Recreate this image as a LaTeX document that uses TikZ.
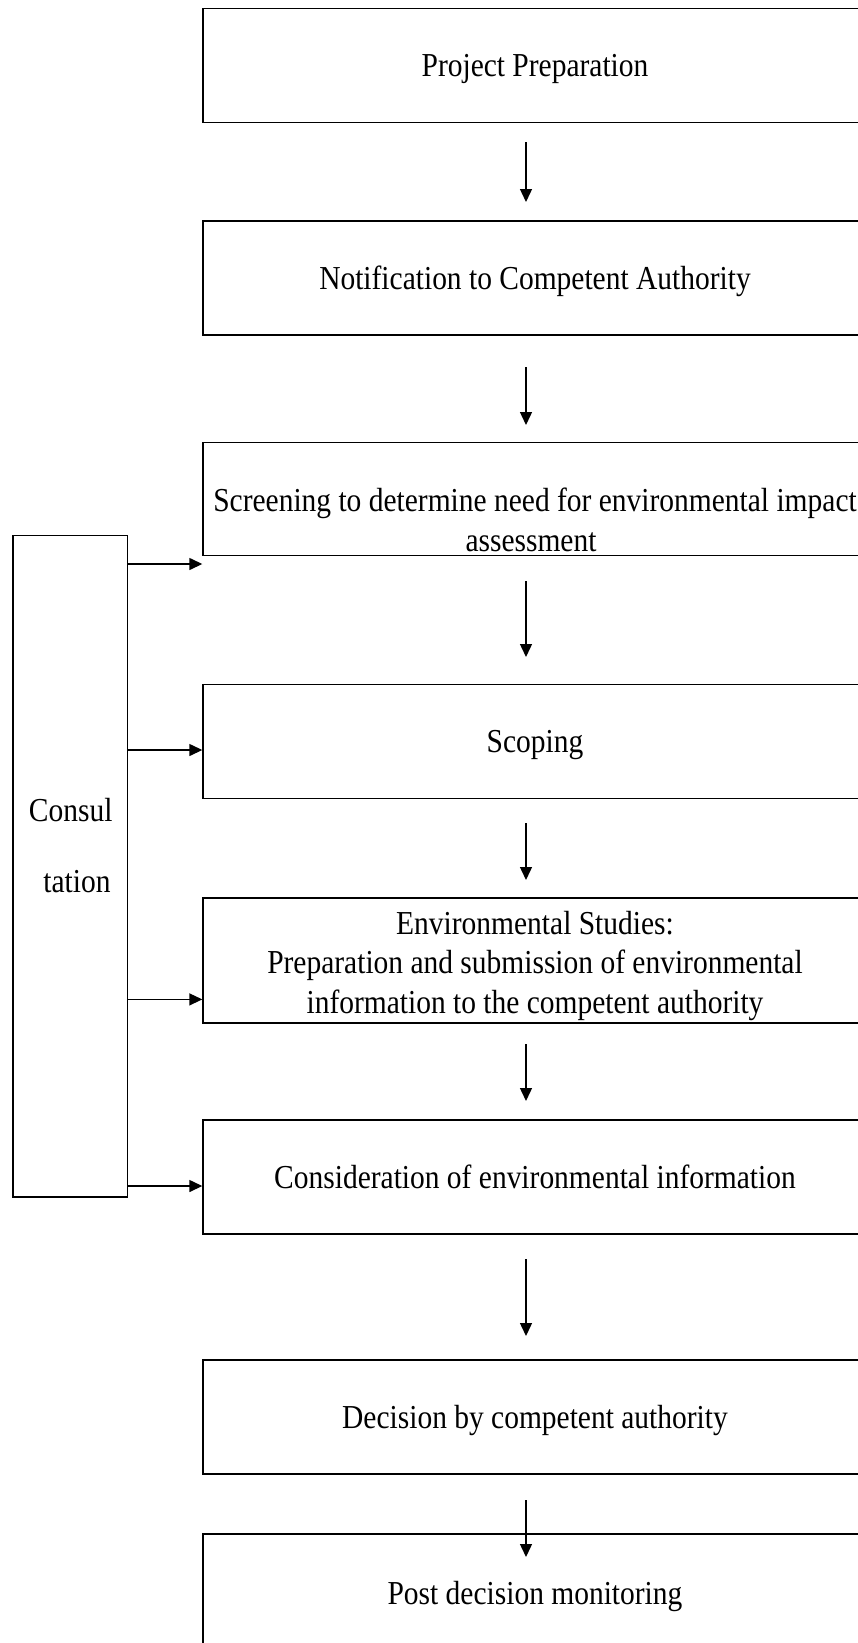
\documentclass[tikz,border=0pt]{standalone}
\usepackage{fontspec}
\setmainfont{Liberation Serif}[FakeStretch=0.88]
\usetikzlibrary{arrows.meta}
\begin{document}
\begin{tikzpicture}[x=1pt,y=-1pt,
  box/.style={draw, line width=1.4pt, minimum width=664pt, minimum height=114pt, inner sep=0pt},
  lbl/.style={anchor=base, inner sep=0pt, font=\fontsize{33.5}{40}\selectfont},
  arr/.style={line width=1.4pt, -{Triangle[length=13pt,width=12pt]}}]
\useasboundingbox (0,0) rectangle (858,1643);
\clip (0,0) rectangle (858,1643);
\fill[white] (0,0) rectangle (858,1643);
% boxes
\node[box] (b1) at (535,65.5) {};
\node[box] (b2) at (535,277.85) {};
\node[box, minimum height=113pt] (b3) at (535,499) {};
\node[box] (b4) at (535,741.3) {};
\node[box, minimum height=125pt] (b5) at (535,960.5) {};
\node[box] (b6) at (535,1177) {};
\node[box] (b7) at (535,1417) {};
\node[box] (b8) at (535,1591) {};
\node[draw, line width=1.4pt, minimum width=114.3pt, minimum height=661.3pt, inner sep=0pt] (cons) at (70.15,866.35) {};
% texts
\node[lbl] (t1) at (535,77) {Project Preparation};
\node[lbl] (t2) at (535,289.5) {Notification to Competent Authority};
\node[lbl] (t3a) at (535,511) {Screening to determine need for environmental impact};
\node[lbl] (t3b) at (531,551) {assessment};
\node[lbl] (t4) at (535,752.3) {Scoping};
\node[lbl] (t5a) at (535,934) {Environmental Studies:};
\node[lbl] (t5b) at (535,973.5) {Preparation and submission of environmental};
\node[lbl] (t5c) at (535,1013.5) {information to the competent authority};
\node[lbl] (t6) at (535,1188) {Consideration of environmental information};
\node[lbl] (t7) at (535,1428) {Decision by competent authority};
\node[lbl] (t8) at (535,1604) {Post decision monitoring};
\node[lbl] (c1) at (70.7,821) {Consul};
\node[lbl] (c2) at (77,892) {tation};
% vertical arrows
\coordinate (a1s) at (526,142.5); \coordinate (a1e) at (526,202);
\coordinate (a2s) at (526,367);   \coordinate (a2e) at (526,425);
\coordinate (a3s) at (526,581);   \coordinate (a3e) at (526,657);
\coordinate (a4s) at (526,823);   \coordinate (a4e) at (526,880);
\coordinate (a5s) at (526,1044);  \coordinate (a5e) at (526,1101);
\coordinate (a6s) at (526,1259);  \coordinate (a6e) at (526,1336);
\coordinate (a7s) at (526,1500);  \coordinate (a7e) at (526,1557);
\draw[arr] (a1s) -- (a1e);
\draw[arr] (a2s) -- (a2e);
\draw[arr] (a3s) -- (a3e);
\draw[arr] (a4s) -- (a4e);
\draw[arr] (a5s) -- (a5e);
\draw[arr] (a6s) -- (a6e);
\draw[arr] (a7s) -- (a7e);
% consultation arrows
\draw[arr] (cons.east |- 0,564) -- (b3.west |- 0,564);
\draw[arr] (cons.east |- 0,750) -- (b4.west |- 0,750);
\draw[arr] (cons.east |- 0,999.4) -- (b5.west |- 0,999.4);
\draw[arr] (cons.east |- 0,1186) -- (b6.west |- 0,1186);
\end{tikzpicture}
\end{document}
